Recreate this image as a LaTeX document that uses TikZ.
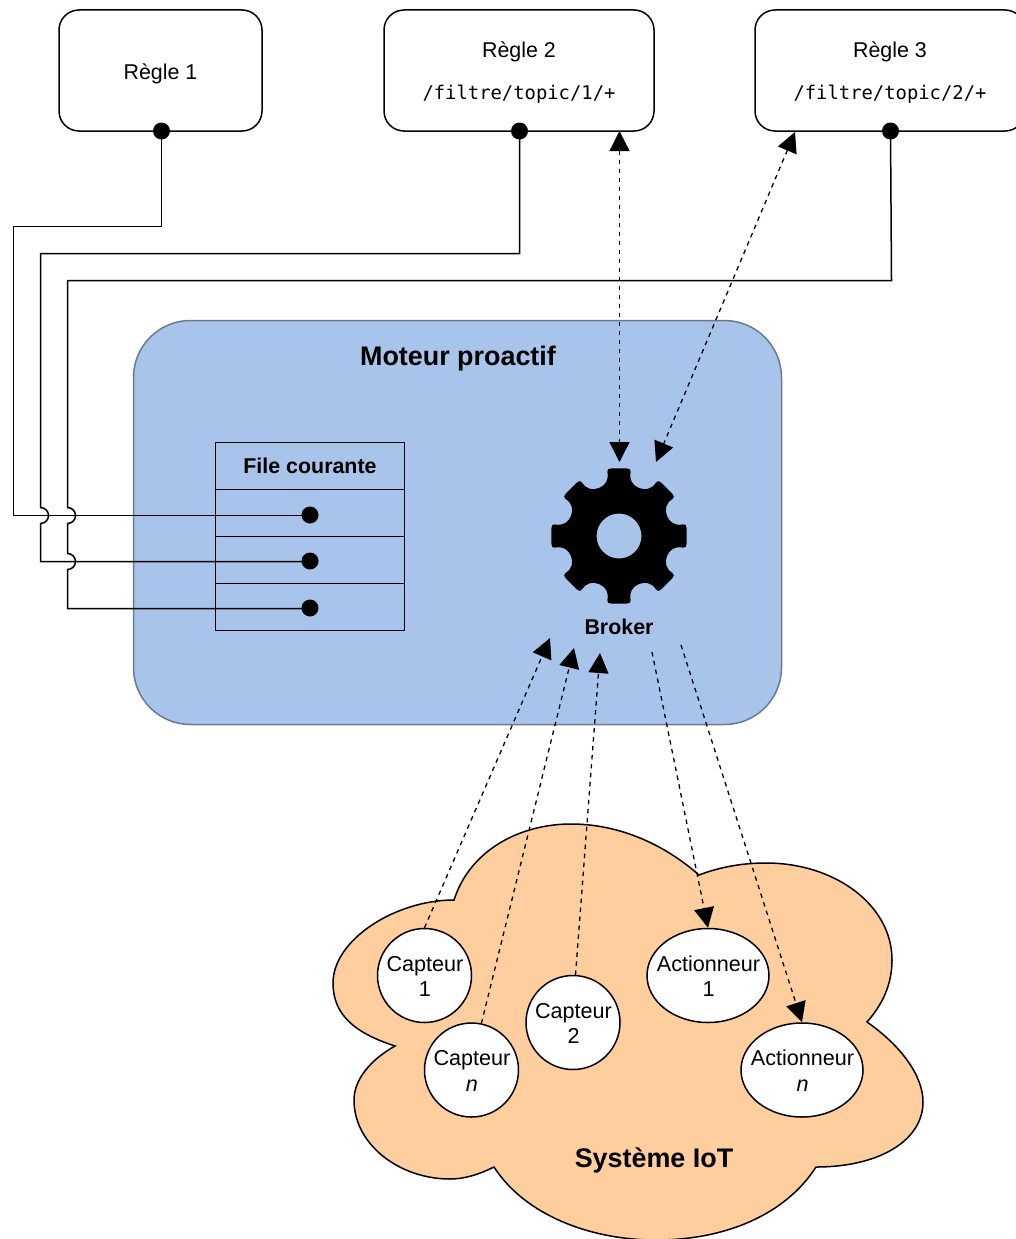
\documentclass[tikz,border=0pt]{standalone}
\usepackage{fontspec}
\setmainfont{Liberation Sans}
\setmonofont{DejaVu Sans Mono}
\usetikzlibrary{arrows.meta,shapes.geometric,calc}
\definecolor{bluefill}{HTML}{A9C4EB}
\definecolor{bluestroke}{HTML}{6C7A90}
\definecolor{cloudfill}{HTML}{FFCE9F}
\tikzset{
  rulebox/.style={draw=black,line width=1.5pt,fill=white,rectangle,rounded corners=20pt,minimum height=121pt,inner sep=0pt,align=center,font=\fontsize{21.4}{42.5}\selectfont},
  dotn/.style={circle,fill=black,draw=none,minimum size=17pt,inner sep=0pt},
  wire/.style={draw=black,line width=1.5pt,line join=miter},
  dasharrow/.style={draw=black,line width=1.3pt,dash pattern=on 4.5pt off 4.5pt,-{Triangle[length=20pt,width=20pt]}},
  dashboth/.style={draw=black,line width=1.3pt,dash pattern=on 4.5pt off 4.5pt,{Triangle[length=20pt,width=20pt]}-{Triangle[length=20pt,width=20pt]}},
  rowbox/.style={draw=black,line width=1.5pt,rectangle,minimum width=189pt,minimum height=47pt,inner sep=0pt},
  devsens/.style={draw=black,line width=1.5pt,fill=white,ellipse,minimum width=94pt,minimum height=94pt,inner sep=0pt},
  devact/.style={draw=black,line width=1.5pt,fill=white,ellipse,minimum width=122pt,minimum height=94pt,inner sep=0pt},
  devtext/.style={align=center,inner sep=0pt,yshift=-0.8pt,xshift=0.5pt,font=\fontsize{21.6}{25.5}\selectfont},
  boldbig/.style={inner sep=0pt,font=\fontsize{26.9}{30}\selectfont\bfseries},
  boldmid/.style={inner sep=0pt,font=\fontsize{21.4}{25}\selectfont\bfseries},
}
\newcommand{\monoline}[1]{\raisebox{-2pt}[\height][\depth]{\fontsize{18.85}{42.5}\selectfont\ttfamily #1}}
\newcommand{\ruletitle}[2]{\raisebox{-#1pt}[\height][\depth]{#2}}
\begin{document}
\begin{tikzpicture}[x=1pt,y=-1pt]
\clip (0,0) rectangle (1016,1239);
\fill[white] (0,0) rectangle (1016,1239);

% Engine box
\node[draw=bluestroke,line width=1.5pt,fill=bluefill,rectangle,rounded corners=57pt,minimum width=648pt,minimum height=404pt,inner sep=0pt] (moteur) at (457.5,522.5) {};
\node[boldbig] (moteurt) at (458,358.5) {Moteur proactif};

% Queue table
\node[rowbox] (fileh) at (310,466) {\fontsize{21.4}{25}\selectfont\bfseries File courante};
\node[rowbox] (row1) at (310,513) {};
\node[rowbox] (row2) at (310,560) {};
\node[rowbox] (row3) at (310,607) {};

% Rule boxes
\node[rulebox,minimum width=203pt] (r1) at (160.5,70.5) {\ruletitle{3}{Règle 1}};
\node[rulebox,minimum width=270pt] (r2) at (519,70.5) {\ruletitle{2}{Règle 2}\\\monoline{/filtre/topic/1/+}};
\node[rulebox,minimum width=270pt] (r3) at (890,70.5) {\ruletitle{2}{Règle 3}\\\monoline{/filtre/topic/2/+}};

% Wire end dots
\node[dotn] (d1) at (161.5,131) {};
\node[dotn] (d2) at (519.5,131) {};
\node[dotn] (d3) at (890.5,131) {};
\node[dotn] (q1) at (310,515) {};
\node[dotn] (q2) at (310,561) {};
\node[dotn] (q3) at (310,608) {};

% Wires
\draw[wire] (d1.center) -- (161.5,226.5) -- (13.5,226.5) -- (13.5,515.5) -- (q1.center |- 0,515.5);
\draw[wire] (d2.center) -- (519.5,253.5) -- (40.5,253.5) -- (40.5,507.5)
  arc[start angle=-90,end angle=90,radius=8] -- (40.5,561.5) -- (q2.center |- 0,561.5);
\draw[wire] (d3.center) -- (891.5,280.5) -- (67.5,280.5) -- (67.5,507.5)
  arc[start angle=-90,end angle=90,radius=8] -- (67.5,553.5)
  arc[start angle=-90,end angle=90,radius=8] -- (67.5,608.5) -- (q3.center |- 0,608.5);

% Gear
\begin{scope}[shift={(619,536)}]
\fill[black,even odd rule]
  (-6:68)
  \foreach \a in {0,45,...,315}{
    -- ({\a+6}:68)
    .. controls ({\a+9.5}:68) and ({\a+10.3}:67.5) .. ({\a+10.3}:65)
    .. controls ({\a+10}:57) and ({\a+15}:52.5) .. ({\a+22.5}:52)
    .. controls ({\a+30}:52.5) and ({\a+35}:57) .. ({\a+34.7}:65)
    .. controls ({\a+34.7}:67.5) and ({\a+35.5}:68) .. ({\a+39}:68)
  } -- cycle
  (0,0) circle[radius=22.5];
\end{scope}
\node[boldmid] (broker) at (619,627) {Broker};

% Cloud
\filldraw[draw=black,line width=1.5pt,fill=cloudfill]
  (454,900) .. controls (470,850) and (520,824) .. (571,824)
  .. controls (620,824) and (665,845) .. (699,875)
  .. controls (720,867) and (742,863) .. (766,863)
  .. controls (835,863) and (892,905) .. (892,960)
  .. controls (892,985) and (882,1005) .. (867,1022)
  .. controls (900,1045) and (923,1075) .. (923,1102)
  .. controls (923,1140) and (880,1167) .. (816,1167)
  .. controls (785,1215) and (725,1240) .. (656,1240)
  .. controls (590,1240) and (525,1215) .. (494,1167)
  .. controls (480,1174) and (465,1179) .. (450,1179)
  .. controls (400,1179) and (354,1145) .. (354,1100)
  .. controls (354,1080) and (370,1060) .. (395,1046)
  .. controls (355,1033) and (333,1015) .. (333,983)
  .. controls (333,940) and (395,900) .. (454,900) -- cycle;
\node[boldbig] (iot) at (654,1160.5) {Système IoT};

% Named arrow ends
\coordinate (gearn) at (619.5,462);
\coordinate (gearne) at (656,462);
\coordinate (r2port) at (619.5,131);
\coordinate (r3port) at (795,132);
\coordinate (ba) at (550,638);
\coordinate (bb) at (574,648);
\coordinate (bc) at (600,653);
\coordinate (bd) at (652,652);
\coordinate (be) at (681,645);

% Devices
\node[devsens,label={[devtext]center:{Capteur\\1}}] (c1) at (424.5,975.5) {};
\node[devsens,label={[devtext]center:{Capteur\\\textit{n}}}] (cn) at (471.5,1070) {};
\node[devsens,label={[devtext]center:{Capteur\\2}}] (c2) at (573,1022.5) {};
\node[devact,label={[devtext]center:{Actionneur\\1}}] (a1) at (708,975.5) {};
\node[devact,label={[devtext]center:{Actionneur\\\textit{n}}}] (an) at (802,1070) {};

% Dashed connectors
\draw[dashboth] (r2port) -- (gearn);
\draw[dashboth] (r3port) -- (gearne);
\draw[dasharrow] (c1.north) -- (ba);
\draw[dasharrow] (cn.78) -- (bb);
\draw[dasharrow] (c2.87) -- (bc);
\draw[dasharrow] (bd) -- (a1.north);
\draw[dasharrow] (be) -- (an.north);
\end{tikzpicture}
\end{document}
